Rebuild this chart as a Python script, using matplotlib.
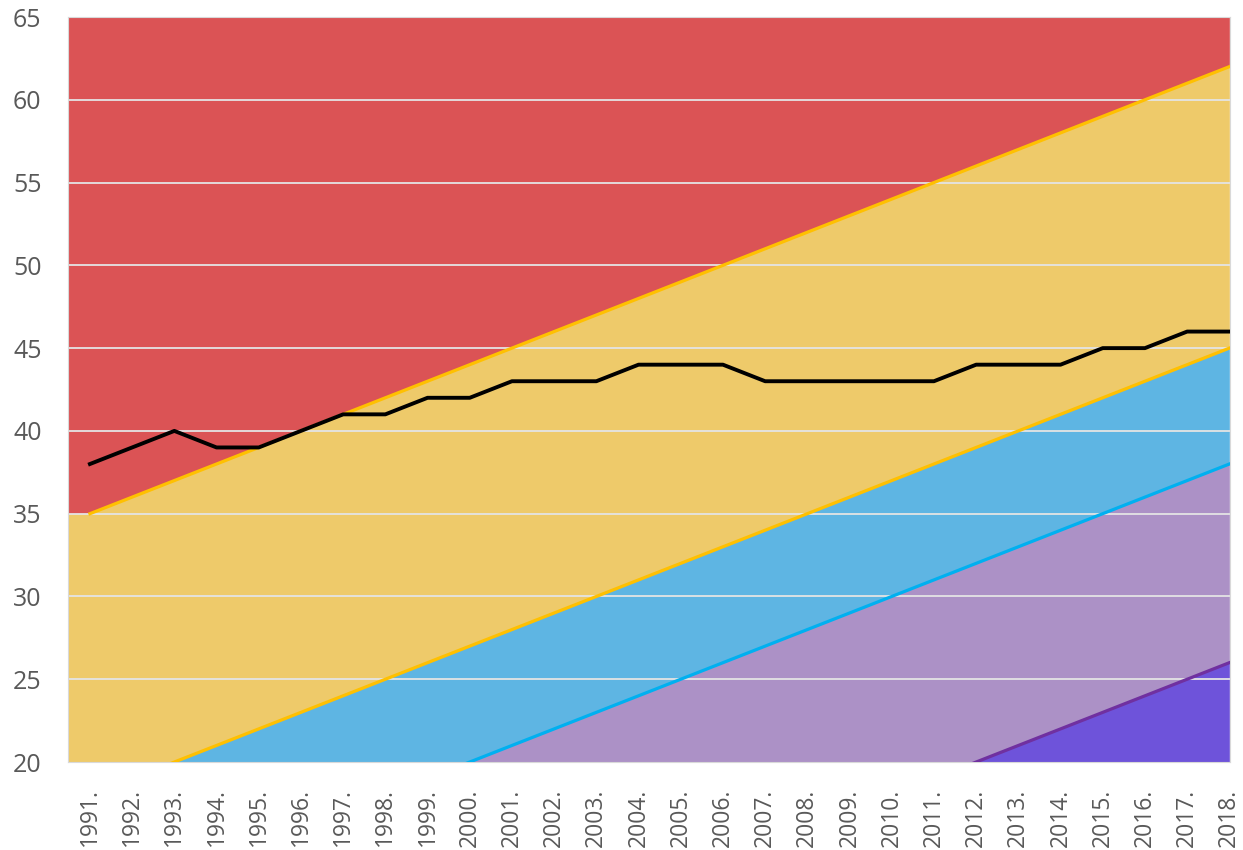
import matplotlib

matplotlib.use("Agg")

import matplotlib.pyplot as plt

years = [f"{y}." for y in range(1991, 2019)]

# observed series (black line)
observed = [38, 39, 40, 39, 39, 40, 41, 41, 42, 42, 43, 43, 43, 44,
            44, 44, 43, 43, 43, 43, 43, 44, 44, 44, 45, 45, 46, 46]

# band boundaries, top to bottom
upper_bound = [35, 36, 37, 38, 39, 40, 41, 42, 43, 44, 45, 46, 47, 48,
               49, 50, 51, 52, 53, 54, 55, 56, 57, 58, 59, 60, 61, 62]
mid_bound = [18, 19, 20, 21, 22, 23, 24, 25, 26, 27, 28, 29, 30, 31,
             32, 33, 34, 35, 36, 37, 38, 39, 40, 41, 42, 43, 44, 45]
low_bound = [11, 12, 13, 14, 15, 16, 17, 18, 19, 20, 21, 22, 23, 24,
             25, 26, 27, 28, 29, 30, 31, 32, 33, 34, 35, 36, 37, 38]
bottom_bound = [-1, 0, 1, 2, 3, 4, 5, 6, 7, 8, 9, 10, 11, 12,
                13, 14, 15, 16, 17, 18, 19, 20, 21, 22, 23, 24, 25, 26]

x = list(range(len(years)))
x_left = -0.52
# areas run flat to the left edge of the plot
xf = [x_left] + x


def ext(v):
    return [v[0]] + v


fig = plt.figure(figsize=(12.43, 8.5), dpi=100)
ax = fig.add_axes([0.0547, 0.1035, 0.935, 0.8765])

ax.fill_between(xf, ext(upper_bound), 65, color="#DB5355", linewidth=0, zorder=1)
ax.fill_between(xf, ext(mid_bound), ext(upper_bound), color="#EECA6A", linewidth=0, zorder=1)
ax.fill_between(xf, ext(low_bound), ext(mid_bound), color="#5EB5E3", linewidth=0, zorder=1)
ax.fill_between(xf, ext(bottom_bound), ext(low_bound), color="#AC91C6", linewidth=0, zorder=1)
ax.fill_between(xf, 0, ext(bottom_bound), color="#6E53DA", linewidth=0, zorder=1)

for yv in range(25, 65, 5):
    ax.axhline(yv, color="#E4E4E4", linewidth=1.3, zorder=2)

ax.plot(x, upper_bound, color="#FFC000", linewidth=2.3, zorder=3)
ax.plot(x, mid_bound, color="#FFC000", linewidth=2.3, zorder=3)
ax.plot(x, low_bound, color="#00B0F0", linewidth=2.3, zorder=3)
ax.plot(x, bottom_bound, color="#7030A0", linewidth=2.3, zorder=3)
ax.plot(x, observed, color="black", linewidth=2.8, zorder=4)

ax.set_xlim(x_left, 27.02)
ax.set_ylim(20, 65)
ax.set_yticks(range(20, 70, 5))
ax.set_xticks(x)
ax.set_xticklabels(years, rotation=90)
ax.tick_params(length=0, labelcolor="#595959")
ax.tick_params(axis="x", labelsize=16.5, pad=19)
ax.tick_params(axis="y", labelsize=18, pad=19)
for lab in ax.get_xticklabels() + ax.get_yticklabels():
    lab.set_fontfamily("Open Sans")
for s in ax.spines.values():
    s.set_color("#D9D9D9")
    s.set_linewidth(0.8)

fig.savefig("out.png", dpi=100)
